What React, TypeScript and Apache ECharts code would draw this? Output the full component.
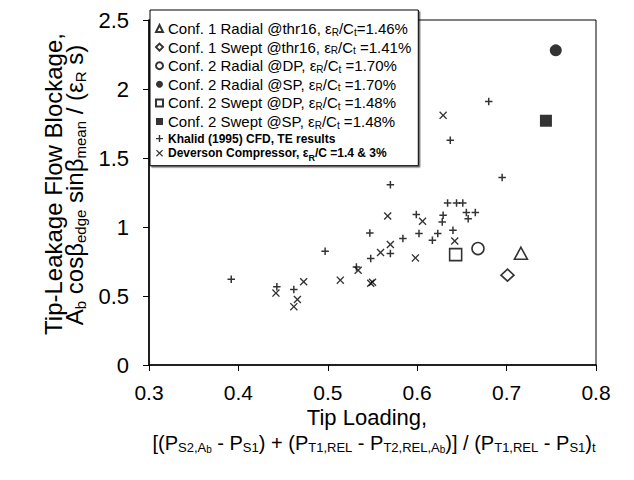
import React, { useEffect, useRef } from 'react';
import * as echarts from 'echarts';

// ---- data (x = tip loading, y = blockage) ----
const conf1RadialThr16: number[][] = [[0.716, 0.81]];
const conf1SweptThr16: number[][] = [[0.701, 0.651]];
const conf2RadialDP: number[][] = [[0.668, 0.844]];
const conf2RadialSP: number[][] = [[0.755, 2.28]];
const conf2SweptDP: number[][] = [[0.643, 0.80]];
const conf2SweptSP: number[][] = [[0.744, 1.77]];

const khalidX = [0.392, 0.443, 0.462, 0.497, 0.532, 0.547, 0.548, 0.570, 0.570, 0.584, 0.599, 0.602, 0.617, 0.623, 0.628, 0.629, 0.634, 0.637, 0.640, 0.644, 0.651, 0.655, 0.657, 0.665, 0.695, 0.680];
const khalidY = [0.622, 0.567, 0.548, 0.825, 0.711, 0.957, 0.771, 0.808, 1.307, 0.917, 1.090, 0.953, 0.904, 0.953, 1.037, 1.085, 1.174, 1.628, 0.977, 1.174, 1.174, 1.105, 1.060, 1.105, 1.358, 1.91];

const deversonX = [0.442, 0.462, 0.466, 0.473, 0.514, 0.534, 0.548, 0.550, 0.559, 0.570, 0.567, 0.598, 0.606, 0.629, 0.642];
const deversonY = [0.521, 0.423, 0.475, 0.603, 0.615, 0.687, 0.593, 0.600, 0.815, 0.873, 1.080, 0.776, 1.042, 1.809, 0.899];

const xTicks = [0.3, 0.4, 0.5, 0.6, 0.7, 0.8];
const yTicks = [0, 0.5, 1, 1.5, 2, 2.5];

const seriesNames = [
  'Conf. 1 Radial @thr16',
  'Conf. 1 Swept @thr16',
  'Conf. 2 Radial @DP',
  'Conf. 2 Radial @SP',
  'Conf. 2 Swept @DP',
  'Conf. 2 Swept @SP',
  'Khalid (1995) CFD, TE results',
  'Deverson Compressor',
];
const legendLabels = [
  '{m|Conf. 1 Radial @thr16, ε}{ms|R}{m|/C}{ms|t}{m|=1.46%}',
  '{m|Conf. 1 Swept @thr16, ε}{ms|R}{m|/C}{ms|t}{m| =1.41%}',
  '{m|Conf. 2 Radial @DP, ε}{ms|R}{m|/C}{ms|t}{m| =1.70%}',
  '{m|Conf. 2 Radial @SP, ε}{ms|R}{m|/C}{ms|t}{m| =1.70%}',
  '{m|Conf. 2 Swept @DP, ε}{ms|R}{m|/C}{ms|t}{m| =1.48%}',
  '{m|Conf. 2 Swept @SP, ε}{ms|R}{m|/C}{ms|t}{m| =1.48%}',
  '{s|Khalid (1995) CFD, TE results}',
  '{s|Deverson Compressor, ε}{ss|R}{s|/C =1.4 & 3%}',
];

const PLUS = 'path://M4,0H6V4H10V6H6V10H4V6H0V4H4Z';
const CROSS = 'path://M1.2,0L5,3.8L8.8,0L10,1.2L6.2,5L10,8.8L8.8,10L5,6.2L1.2,10L0,8.8L3.8,5L0,1.2Z';

const FONT = 'Liberation Sans';

export default function App() {
  const ref = useRef<HTMLDivElement>(null);
  useEffect(() => {
    if (!ref.current) return;
    const chart = echarts.init(ref.current, null, { renderer: 'svg' });
    const open = { color: '#fff', borderColor: '#000', borderWidth: 1.6 };
    const filled = { color: '#000', borderColor: '#000', borderWidth: 0 };
    const zip = (xs: number[], ys: number[]) => xs.map((x, i) => [x, ys[i]]);
    const labelMap: Record<string, string> = {};
    seriesNames.forEach((n, i) => (labelMap[n] = legendLabels[i]));

    const option: any = {
      animation: false,
      backgroundColor: '#fff',
      grid: { left: 149, right: 38, top: 20, bottom: 115, show: true, borderColor: '#000', borderWidth: 1, backgroundColor: 'transparent' },
      xAxis: {
        type: 'value', min: xTicks[0], max: xTicks[xTicks.length - 1], interval: 0.1,
        axisLine: { show: true, onZero: false, lineStyle: { color: '#000', width: 1.5 } },
        axisTick: { show: true, length: 6, lineStyle: { color: '#000', width: 1 } },
        splitLine: { show: false },
        axisLabel: { color: '#000', fontSize: 21, lineHeight: 20, fontFamily: FONT, margin: 17, formatter: (v: number) => v.toFixed(1) },
      },
      yAxis: {
        type: 'value', min: yTicks[0], max: yTicks[yTicks.length - 1], interval: 0.5,
        axisLine: { show: true, onZero: false, lineStyle: { color: '#000', width: 1.5 } },
        axisTick: { show: true, length: 6, lineStyle: { color: '#000', width: 1 } },
        splitLine: { show: false },
        axisLabel: { color: '#000', fontSize: 22, fontFamily: FONT, margin: 20, formatter: (v: number) => String(Number(v.toFixed(1))) },
      },
      legend: {
        orient: 'vertical', left: 150, top: 10,
        padding: [11, 7, 3, 5], itemGap: 2.6, itemWidth: 7, itemHeight: 7,
        backgroundColor: '#fff', borderColor: '#000', borderWidth: 1,
        shadowColor: 'rgba(0,0,0,0.55)', shadowOffsetX: 1.5, shadowOffsetY: 1.5, shadowBlur: 0,
        selectedMode: false,
        data: seriesNames,
        formatter: (n: string) => labelMap[n],
        textStyle: {
          color: '#000', fontFamily: FONT,
          rich: {
            m: { fontSize: 15, lineHeight: 17, fontFamily: FONT, color: '#000' },
            ms: { fontSize: 10, lineHeight: 8, verticalAlign: 'bottom', fontFamily: FONT, color: '#000' },
            s: { fontSize: 12, lineHeight: 19, fontWeight: 'bold', fontFamily: FONT, color: '#000' },
            ss: { fontSize: 9, lineHeight: 8, verticalAlign: 'bottom', fontWeight: 'bold', fontFamily: FONT, color: '#000' },
          },
        },
      },
      series: [
        { name: seriesNames[0], type: 'scatter', data: conf1RadialThr16, symbol: 'triangle', symbolSize: [13, 12], itemStyle: open },
        { name: seriesNames[1], type: 'scatter', data: conf1SweptThr16, symbol: 'diamond', symbolSize: [13, 12], itemStyle: open },
        { name: seriesNames[2], type: 'scatter', data: conf2RadialDP, symbol: 'circle', symbolSize: 12, itemStyle: open },
        { name: seriesNames[3], type: 'scatter', data: conf2RadialSP, symbol: 'circle', symbolSize: 12, itemStyle: filled },
        { name: seriesNames[4], type: 'scatter', data: conf2SweptDP, symbol: 'rect', symbolSize: 12, itemStyle: open },
        { name: seriesNames[5], type: 'scatter', data: conf2SweptSP, symbol: 'rect', symbolSize: 12, itemStyle: filled },
        { name: seriesNames[6], type: 'scatter', data: zip(khalidX, khalidY), symbol: PLUS, symbolSize: 7.5, itemStyle: filled },
        { name: seriesNames[7], type: 'scatter', data: zip(deversonX, deversonY), symbol: CROSS, symbolSize: 8, itemStyle: filled },
      ],
      graphic: [
        {
          type: 'text', x: 367, y: 417,
          style: { text: 'Tip Loading,', fontSize: 22, lineHeight: 18, fontFamily: FONT, fill: '#000', align: 'center', verticalAlign: 'middle' },
        },
        {
          type: 'text', x: 374, y: 443,
          style: {
            text: '{n|[(P}{s|S2,A}{ss|b}{n| - P}{s|S1}{n|) + (P}{s|T1,REL}{n| - P}{s|T2,REL,A}{ss|b}{n|)] / (P}{s|T1,REL}{n| - P}{s|S1}{n|)}{s|t}',
            align: 'center', verticalAlign: 'middle', fill: '#000',
            rich: {
              n: { fontSize: 20, lineHeight: 22, fontFamily: FONT, fill: '#000' },
              s: { fontSize: 13, lineHeight: 9, verticalAlign: 'bottom', fontFamily: FONT, fill: '#000' },
              ss: { fontSize: 10, lineHeight: 4, verticalAlign: 'bottom', fontFamily: FONT, fill: '#000' },
            },
          },
        },
        {
          type: 'text', x: 53, y: 184, rotation: Math.PI / 2,
          style: { text: 'Tip-Leakage Flow Blockage,', fontSize: 24, fontFamily: FONT, fill: '#000', align: 'center', verticalAlign: 'middle' },
        },
        {
          type: 'text', x: 74, y: 185, rotation: Math.PI / 2,
          style: {
            text: '{n|A}{s|b}{n| cosβ}{s|edge}{n| sinβ}{s|mean}{n| / (ε}{s|R}{n| s)}',
            align: 'center', verticalAlign: 'middle', fill: '#000',
            rich: {
              n: { fontSize: 24, lineHeight: 27, fontFamily: FONT, fill: '#000' },
              s: { fontSize: 15, lineHeight: 10, verticalAlign: 'bottom', fontFamily: FONT, fill: '#000' },
            },
          },
        },
      ],
    };
    chart.setOption(option);
    return () => chart.dispose();
  }, []);
  return <div ref={ref} style={{ position: 'fixed', left: 0, top: 0, width: 634, height: 480 }} />;
}
